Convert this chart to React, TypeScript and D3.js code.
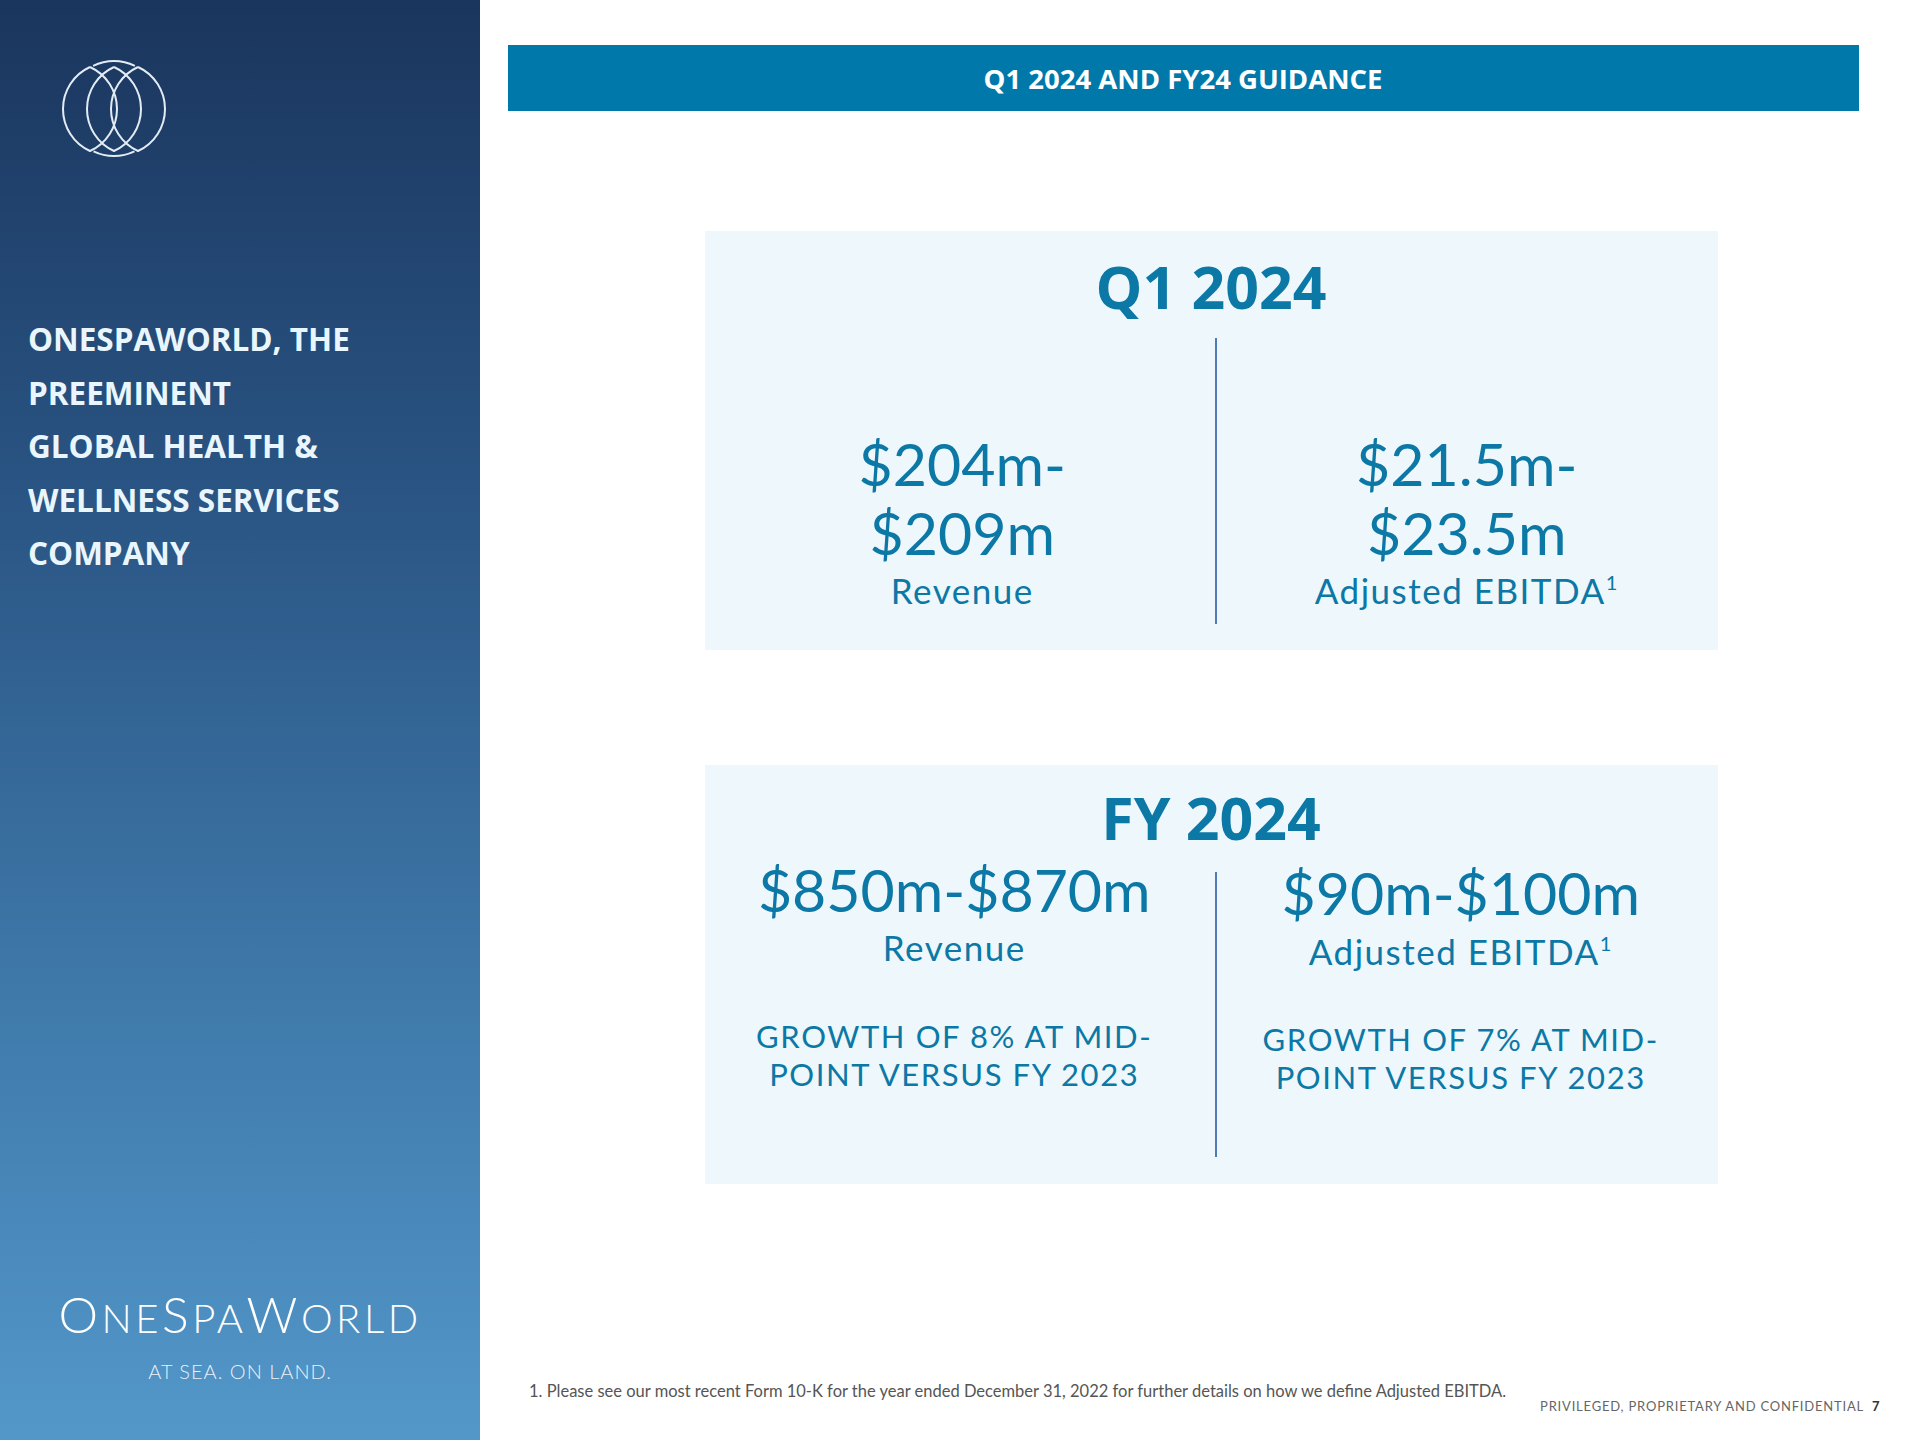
import React from "react";
import * as d3 from "d3";

const W = 1920;
const H = 1440;

const headerTitle = "Q1 2024 AND FY24 GUIDANCE";
const sideLines = [
  "ONESPAWORLD, THE",
  "PREEMINENT",
  "GLOBAL HEALTH &",
  "WELLNESS SERVICES",
  "COMPANY",
];
const sectionTitles = ["Q1 2024", "FY 2024"];
const columns = ["Revenue", "Adjusted EBITDA"];
const q1Values = [
  ["$204m-", "$209m"],
  ["$21.5m-", "$23.5m"],
];
const fyValues = ["$850m-$870m", "$90m-$100m"];
const fyGrowth = [
  ["GROWTH OF 8% AT MID-", "POINT VERSUS FY 2023"],
  ["GROWTH OF 7% AT MID-", "POINT VERSUS FY 2023"],
];
const footnote =
  "1. Please see our most recent Form 10-K for the year ended December 31, 2022 for further details on how we define Adjusted EBITDA.";
const confidential = "PRIVILEGED, PROPRIETARY AND CONFIDENTIAL";
const pageNum = "7";
const brandParts = [
  { t: "O", big: true },
  { t: "NE", big: false },
  { t: "S", big: true },
  { t: "PA", big: false },
  { t: "W", big: true },
  { t: "ORLD", big: false },
];
const tagline = "AT SEA. ON LAND.";
const lensOffsets = [-24, 0, 24];

const BLUE = "#0b78a6";
const BOX = "#eef7fc";
const NUMFONT = "Lato, 'Open Sans', sans-serif";
const BOLDFONT = "'Open Sans', 'Noto Sans', sans-serif";

function lensPath(cx: number, cy: number, w: number, h: number) {
  const R = (h * h + w * w) / (2 * w);
  return `M${cx},${cy - h} A${R},${R} 0 0 1 ${cx},${cy + h} A${R},${R} 0 0 1 ${cx},${cy - h}`;
}

export default function App() {
  const boxX0 = 705;
  const boxX1 = 1718;
  const col = d3.scaleBand<number>().domain([0, 1]).range([boxX0, boxX1]);
  const cx = (i: number) => (col(i) as number) + col.bandwidth() / 2;
  const boxY = (i: number) => (i === 0 ? 231 : 765);
  const boxH = 419;
  const midX = 1216;
  const sideY = d3.scaleLinear().domain([0, sideLines.length - 1]).range([351, 565]);

  const logoCx = 114;
  const logoCy = 109;
  const arc = d3.arc();
  const outerTop = arc({
    innerRadius: 48,
    outerRadius: 48,
    startAngle: -0.45,
    endAngle: 0.45,
  } as any) as string;
  const outerBot = arc({
    innerRadius: 47,
    outerRadius: 47,
    startAngle: Math.PI - 0.45,
    endAngle: Math.PI + 0.45,
  } as any) as string;

  return (
    <div style={{ position: "absolute", left: 0, top: 0 }}>
      <svg width={W} height={H} viewBox={`0 0 ${W} ${H}`} style={{ display: "block" }}>
        <defs>
          <linearGradient id="sideGrad" x1="0" y1="0" x2="0" y2="1">
            <stop offset="0" stopColor="#1a355d" />
            <stop offset="0.35" stopColor="#2a5584" />
            <stop offset="0.7" stopColor="#3f7aab" />
            <stop offset="1" stopColor="#5397c9" />
          </linearGradient>
        </defs>
        <rect x={0} y={0} width={W} height={H} fill="#ffffff" />
        <rect x={0} y={0} width={480} height={H} fill="url(#sideGrad)" />

        {/* logo mark */}
        <g transform={`translate(${logoCx},${logoCy})`} fill="none" stroke="#e3ecf4" strokeWidth={2}>
          {lensOffsets.map((o) => (
            <path key={o} d={lensPath(o, 0, 27, 42)} />
          ))}
          <path d={outerTop} />
          <path d={outerBot} />
        </g>

        {sideLines.map((l, i) => (
          <text
            key={l}
            x={28}
            y={sideY(i)}
            fill="#eaf6fd"
            fontFamily={BOLDFONT}
            fontWeight={700}
            fontSize={31.5}
          >
            {l}
          </text>
        ))}

        {/* brand */}
        <text
          x={240}
          y={1333}
          textAnchor="middle"
          fill="#ffffff"
          fontFamily={NUMFONT}
          fontWeight={300}
          letterSpacing={3.5}
        >
          {brandParts.map((p, i) => (
            <tspan key={i} fontSize={p.big ? 50 : 40}>
              {p.t}
            </tspan>
          ))}
        </text>
        <text
          x={240}
          y={1379}
          textAnchor="middle"
          fill="#e8f1f8"
          fontFamily={NUMFONT}
          fontWeight={300}
          fontSize={20}
          letterSpacing={1}
        >
          {tagline}
        </text>

        {/* header bar */}
        <rect x={508} y={45} width={1351} height={66} fill="#0079aa" />
        <text
          x={1183}
          y={89}
          textAnchor="middle"
          fill="#ffffff"
          fontFamily={BOLDFONT}
          fontWeight={700}
          fontSize={27.5}
        >
          {headerTitle}
        </text>

        {/* boxes */}
        {sectionTitles.map((t, i) => (
          <g key={t}>
            <rect x={boxX0} y={boxY(i)} width={boxX1 - boxX0} height={boxH} fill={BOX} />
            <text
              x={1211}
              y={boxY(i) + (i === 0 ? 78 : 75)}
              textAnchor="middle"
              fill={BLUE}
              fontFamily={BOLDFONT}
              fontWeight={700}
              fontSize={59}
            >
              {t}
            </text>
          </g>
        ))}

        {/* dividers */}
        <line x1={midX} x2={midX} y1={338} y2={624} stroke="#4f7bb4" strokeWidth={2} />
        <line x1={midX} x2={midX} y1={872} y2={1157} stroke="#4f7bb4" strokeWidth={2} />

        {/* Q1 values */}
        {q1Values.map((lines, i) => (
          <g key={"q1" + i} fill={BLUE} fontFamily={NUMFONT} textAnchor="middle">
            {lines.map((v, j) => (
              <text key={v} x={cx(i) + (i === 0 ? 4 : 2)} y={486 + j * 69} fontSize={59} fontWeight={400}>
                {v}
              </text>
            ))}
            <text x={cx(i) + (i === 0 ? 4 : 2)} y={604} fontSize={35} fontWeight={400} letterSpacing={1.5}>
              {columns[i]}
              {i === 1 ? (
                <tspan fontSize={20} dy={-14}>
                  1
                </tspan>
              ) : null}
            </text>
          </g>
        ))}

        {/* FY values */}
        {fyValues.map((v, i) => (
          <g key={"fy" + i} fill={BLUE} fontFamily={NUMFONT} textAnchor="middle">
            <text x={cx(i) - 4} y={912 + i * 3} fontSize={59} fontWeight={400}>
              {v}
            </text>
            <text x={cx(i) - 4} y={961 + i * 4} fontSize={35} fontWeight={400} letterSpacing={1.5}>
              {columns[i]}
              {i === 1 ? (
                <tspan fontSize={20} dy={-14}>
                  1
                </tspan>
              ) : null}
            </text>
            {fyGrowth[i].map((g, j) => (
              <text
                key={g}
                x={cx(i) - 4}
                y={1048 + i * 3 + j * 38}
                fontSize={31}
                fontWeight={400}
                letterSpacing={1.6}
              >
                {g}
              </text>
            ))}
          </g>
        ))}

        {/* footer */}
        <text x={529} y={1397} fill="#555555" fontFamily={NUMFONT} fontSize={16.5}>
          {footnote}
        </text>
        <text
          x={1864}
          y={1411}
          textAnchor="end"
          fill="#666666"
          fontFamily={NUMFONT}
          fontSize={13}
          letterSpacing={0.8}
        >
          {confidential}
        </text>
        <text x={1872} y={1411} fill="#333333" fontFamily={NUMFONT} fontSize={13} fontWeight={700}>
          {pageNum}
        </text>
      </svg>
    </div>
  );
}
